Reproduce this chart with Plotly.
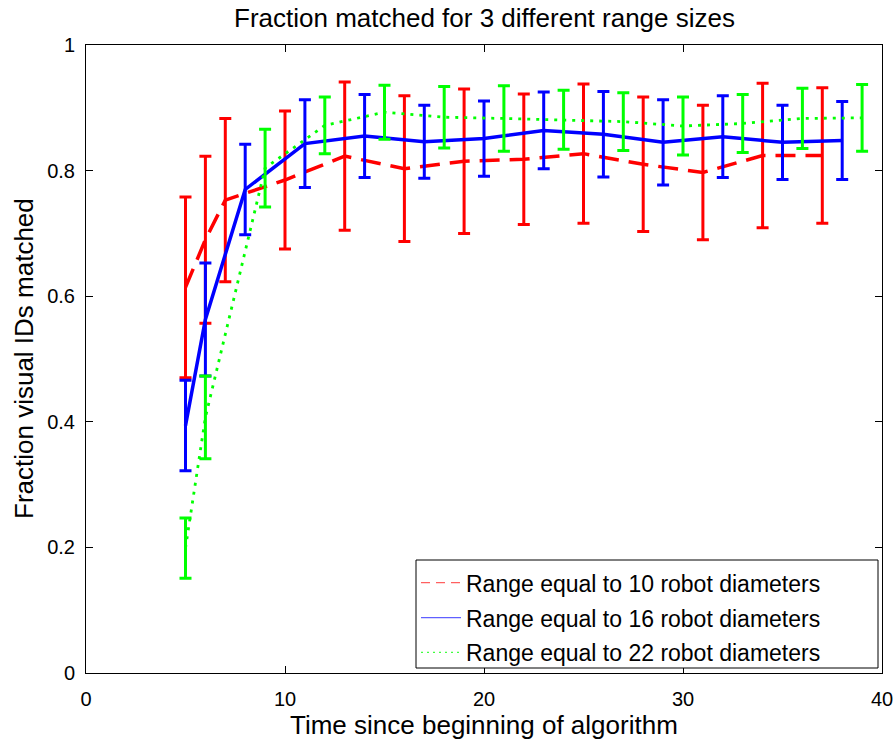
import plotly.graph_objects as go

# ---- data ----
x_r10 = [5, 6, 7, 10, 13, 16, 19, 22, 25, 28, 31, 34, 37]
y_r10 = [0.614, 0.690, 0.753, 0.785, 0.823, 0.803, 0.815, 0.818, 0.827, 0.810, 0.797, 0.824, 0.824]
e_r10 = [0.144, 0.133, 0.130, 0.110, 0.118, 0.116, 0.115, 0.104, 0.111, 0.107, 0.107, 0.115, 0.108]

x_r16 = [5, 6, 8, 11, 14, 17, 20, 23, 26, 29, 32, 35, 38]
y_r16 = [0.394, 0.563, 0.770, 0.843, 0.855, 0.846, 0.851, 0.864, 0.858, 0.845, 0.854, 0.845, 0.848]
e_r16 = [0.072, 0.090, 0.072, 0.070, 0.066, 0.058, 0.060, 0.061, 0.068, 0.068, 0.065, 0.059, 0.062]

x_r22 = [5, 6, 9, 12, 15, 18, 21, 24, 27, 30, 33, 36, 39]
y_r22 = [0.199, 0.407, 0.804, 0.872, 0.893, 0.885, 0.883, 0.881, 0.878, 0.871, 0.875, 0.883, 0.884]
e_r22 = [0.048, 0.066, 0.062, 0.045, 0.043, 0.049, 0.052, 0.047, 0.046, 0.046, 0.046, 0.048, 0.053]

names = ["Range equal to 10 robot diameters",
         "Range equal to 16 robot diameters",
         "Range equal to 22 robot diameters"]
colors = ["#ff0000", "#0000ff", "#00ff00"]
legend_colors = ["#ff6060", "#6060ff", "#40ff40"]
dashes = ["20px,10px", "solid", "3px,6px"]
widths = [3.5, 3.5, 2.8]

FONT = "Liberation Sans, Arial, sans-serif"

fig = go.Figure()
series = [(x_r10, y_r10, e_r10), (x_r16, y_r16, e_r16), (x_r22, y_r22, e_r22)]
for (xs, ys, es), c, d, w, n in zip(series, colors, dashes, widths, names):
    fig.add_trace(go.Scatter(
        x=xs, y=ys, mode="lines", name=n, showlegend=False,
        line=dict(color=c, width=w, dash=d),
        error_y=dict(type="data", array=es, visible=True, color=c, thickness=3, width=6),
    ))
# legend entries (thin lines as in the reference legend)
for i, (c, d, n) in enumerate(zip(legend_colors, ["9px,6px", "solid", "2px,4px"], names)):
    fig.add_trace(go.Scatter(
        x=[None], y=[None], mode="lines", name=n, showlegend=True,
        legendgroup=f"g{i}",
        line=dict(color=c, width=1.2, dash=d),
    ))

axis_common = dict(
    showline=True, linecolor="black", linewidth=1, mirror="ticks",
    ticks="inside", ticklen=7, tickcolor="black", tickwidth=1,
    showgrid=False, zeroline=False,
    tickfont=dict(family=FONT, size=20, color="black"),
)

fig.update_layout(
    width=896, height=744,
    margin=dict(l=86, r=14, t=45, b=71, autoexpand=False),
    paper_bgcolor="white", plot_bgcolor="white",
    font=dict(family=FONT, color="black"),
    xaxis=dict(range=[0, 40], tick0=0, dtick=10, ticklabelstandoff=8, **axis_common),
    yaxis=dict(range=[0, 1], tick0=0, dtick=0.2, ticklabelstandoff=6, **axis_common),
    legend=dict(
        x=(416 - 86) / 796, y=0.178, xanchor="left", yanchor="top",
        bgcolor="rgba(0,0,0,0)", borderwidth=0,
        font=dict(family=FONT, size=23, color="black"),
        itemwidth=40, traceorder="grouped", tracegroupgap=2,
    ),
    shapes=[
        # legend frame
        dict(type="rect", xref="paper", yref="paper",
             x0=(416 - 86) / 796, x1=(878 - 86) / 796,
             y0=(673 - 668) / 628, y1=(673 - 560) / 628,
             line=dict(color="black", width=1), fillcolor="white", layer="above"),
    ],
    annotations=[
        dict(text="Fraction matched for 3 different range sizes", xref="paper", yref="paper",
             x=0.5, y=1 + 27 / 628, xanchor="center", yanchor="middle", showarrow=False,
             font=dict(family=FONT, size=26, color="black")),
        dict(text="Time since beginning of algorithm", xref="paper", yref="paper",
             x=0.5, y=-52 / 628, xanchor="center", yanchor="middle", showarrow=False,
             font=dict(family=FONT, size=26, color="black")),
        dict(text="Fraction visual IDs matched", xref="paper", yref="paper",
             x=-62 / 796, y=0.5, xanchor="center", yanchor="middle", showarrow=False,
             textangle=-90, font=dict(family=FONT, size=26, color="black")),
    ],
)

fig.write_html("out.html", config={"displayModeBar": False},
               post_script="document.body.style.margin='0px';")
